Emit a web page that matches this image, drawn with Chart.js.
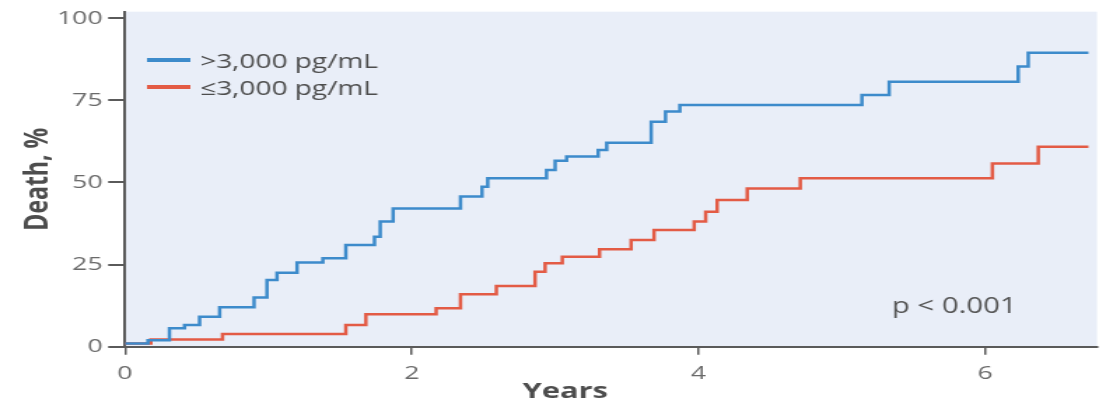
<!DOCTYPE html>
<html>
<head>
<meta charset="utf-8">
<title>Death by NT-proBNP group</title>
<script src="https://cdn.jsdelivr.net/npm/chart.js@4.4.0/dist/chart.umd.min.js"></script>
<style>
    html, body { margin: 0; padding: 0; background: #fff; overflow: hidden; }
    /* the source figure is stretched sideways, so the chart is drawn narrow and widened */
    #wrap { position: absolute; left: 0; top: 0; width: 792px; height: 404px;
            transform: scaleX(1.4); transform-origin: 0 0; }
</style>
</head>
<body>
<div id="wrap"><canvas id="kmChart"></canvas></div>
<script>
// Cumulative death (%) at each event time (years)
const highYears = [0, 0.16, 0.31, 0.415, 0.52, 0.66, 0.90, 0.99, 1.06, 1.20, 1.38, 1.54, 1.74, 1.78, 1.87,
                   2.34, 2.49, 2.53, 2.94, 3.00, 3.08, 3.30, 3.36, 3.67, 3.77, 3.87, 5.14, 5.33, 6.23, 6.30, 6.72];
const highDeath = [1.0, 2.0, 5.6, 6.6, 9.1, 12.0, 15.0, 20.3, 22.5, 25.6, 26.9, 31.0, 33.5, 38.1, 42.1,
                   45.7, 48.7, 51.3, 53.8, 56.6, 57.9, 59.9, 62.1, 68.5, 71.6, 73.6, 76.6, 80.7, 85.3, 89.5, 89.5];

const lowYears = [0, 0.18, 0.68, 1.54, 1.68, 2.17, 2.34, 2.59, 2.86, 2.93, 3.05, 3.31, 3.53, 3.69,
                  3.97, 4.05, 4.13, 4.34, 4.71, 6.05, 6.37, 6.72];
const lowDeath = [1.0, 2.2, 3.9, 6.6, 9.9, 11.7, 16.0, 18.5, 22.8, 25.4, 27.4, 29.7, 32.5, 35.5,
                  38.1, 41.1, 44.7, 48.2, 51.3, 55.8, 60.9, 60.9];

const seriesLabels = ['>3,000 pg/mL', '≤3,000 pg/mL'];
const seriesColors = ['#3d8bcb', '#e35b45'];
const xTicks = [0, 2, 4, 6];
const yTicks = [0, 25, 50, 75, 100];
const pValueText = 'p < 0.001';

const axisColor = '#5a5a5a';
const tickTextColor = '#6a6a6a';
const textColor = '#4d4d4d';

Chart.defaults.font.family = "'Open Sans', 'Noto Sans', sans-serif";

function toPoints(xs, ys) {
    return xs.map((x, i) => ({ x: x, y: ys[i] }));
}

// light blue panel behind the curves
const panelBackground = {
    id: 'panelBackground',
    beforeDraw(chart) {
        const { ctx, chartArea } = chart;
        ctx.save();
        ctx.fillStyle = '#e9eef8';
        ctx.fillRect(chartArea.left, chartArea.top, chartArea.right - chartArea.left, chartArea.bottom - chartArea.top);
        ctx.restore();
    }
};

// legend in the top-left of the panel, p value bottom-right, x title
const overlayText = {
    id: 'overlayText',
    afterDraw(chart) {
        const { ctx, chartArea } = chart;
        ctx.save();

        // legend
        ctx.font = "20px 'Open Sans', sans-serif";
        ctx.textBaseline = 'middle';
        ctx.textAlign = 'left';
        seriesLabels.forEach((label, i) => {
            const y = 60 + i * 27;
            ctx.strokeStyle = seriesColors[i];
            ctx.lineWidth = 4;
            ctx.beginPath();
            ctx.moveTo(105, y);
            ctx.lineTo(136, y);
            ctx.stroke();
            ctx.fillStyle = textColor;
            ctx.fillText(label, 143, y + 2);
        });

        // p value
        ctx.font = "21px 'Open Sans', sans-serif";
        ctx.textBaseline = 'alphabetic';
        ctx.fillStyle = '#555';
        ctx.fillText(pValueText, 637, 313);

        // x axis title
        ctx.font = "bold 22px 'Open Sans', sans-serif";
        ctx.textAlign = 'center';
        ctx.fillStyle = textColor;
        const tx = chartArea.left + 0.453 * (chartArea.right - chartArea.left);
        ctx.fillText('Years', tx, 398);

        ctx.restore();
    }
};

const ctx = document.getElementById('kmChart').getContext('2d');

new Chart(ctx, {
    type: 'line',
    data: {
        datasets: [
            {
                label: seriesLabels[0],
                data: toPoints(highYears, highDeath),
                borderColor: seriesColors[0],
                borderWidth: 2.5,
                stepped: 'before',
                pointRadius: 0,
                fill: false
            },
            {
                label: seriesLabels[1],
                data: toPoints(lowYears, lowDeath),
                borderColor: seriesColors[1],
                borderWidth: 2.5,
                stepped: 'before',
                pointRadius: 0,
                fill: false
            }
        ]
    },
    options: {
        responsive: true,
        maintainAspectRatio: false,
        animation: false,
        layout: { padding: { top: 11.7, right: 8.4, bottom: 0, left: 0 } },
        scales: {
            x: {
                type: 'linear',
                min: 0,
                max: 6.78,
                afterBuildTicks: (scale) => { scale.ticks = xTicks.map(v => ({ value: v })); },
                afterFit: (scale) => { scale.height = 57.3; scale.paddingLeft = 0; scale.paddingRight = 0; },
                border: { display: true, color: axisColor, width: 2 },
                grid: { drawOnChartArea: false, drawTicks: true, tickLength: 8, color: axisColor, lineWidth: 1.5 },
                ticks: { color: tickTextColor, font: { size: 19 }, padding: 7, maxRotation: 0 }
            },
            y: {
                min: 0,
                max: 102,
                afterBuildTicks: (scale) => { scale.ticks = yTicks.map(v => ({ value: v })); },
                afterFit: (scale) => { scale.width = 89.3; scale.paddingTop = 0; scale.paddingBottom = 0; },
                border: { display: true, color: axisColor, width: 2 },
                grid: { drawOnChartArea: false, drawTicks: true, tickLength: 12, color: axisColor, lineWidth: 2 },
                ticks: { color: tickTextColor, font: { size: 19 }, padding: 4 },
                title: {
                    display: true,
                    text: 'Death, %',
                    color: textColor,
                    font: { size: 23, weight: 'bold' },
                    padding: { top: 14, bottom: 0 }
                }
            }
        },
        plugins: {
            legend: { display: false },
            tooltip: { enabled: false }
        }
    },
    plugins: [panelBackground, overlayText]
});
</script>
</body>
</html>
